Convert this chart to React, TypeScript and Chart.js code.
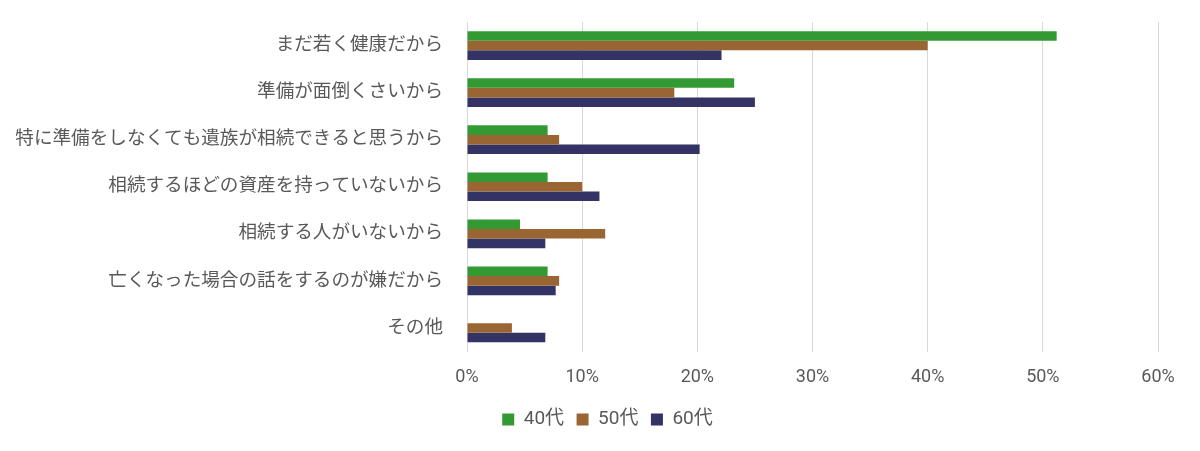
import React, { useEffect, useRef } from "react";
import { Chart, registerables } from "chart.js";

Chart.register(...registerables);

const categories = [
  "まだ若く健康だから",
  "準備が面倒くさいから",
  "特に準備をしなくても遺族が相続できると思うから",
  "相続するほどの資産を持っていないから",
  "相続する人がいないから",
  "亡くなった場合の話をするのが嫌だから",
  "その他",
];

const seriesNames = ["40代", "50代", "60代"];
const values40 = [51.2, 23.2, 7.0, 7.0, 4.6, 7.0, 0];
const values50 = [40.0, 18.0, 8.0, 10.0, 12.0, 8.0, 3.9];
const values60 = [22.1, 25.0, 20.2, 11.5, 6.8, 7.7, 6.8];
const colors = ["#339933", "#996633", "#333366"];

const xMax = 60;
const xStep = 10;

const legendShift = {
  id: "legendShift",
  afterLayout(chart: any) {
    const l = chart.legend;
    if (l) {
      l.left += 21;
      l.right += 21;
    }
  },
};

export default function App() {
  const ref = useRef<HTMLCanvasElement | null>(null);

  useEffect(() => {
    if (!ref.current) return;
    const font = 'Roboto, "Noto Sans CJK JP", sans-serif';
    const chart = new Chart(ref.current, {
      type: "bar",
      data: {
        labels: categories,
        datasets: [values40, values50, values60].map((d, i) => ({
          label: seriesNames[i],
          data: d,
          backgroundColor: colors[i],
          borderWidth: 0,
          categoryPercentage: 0.61,
          barPercentage: 1.0,
        })),
      },
      plugins: [legendShift],
      options: {
        indexAxis: "y",
        animation: false,
        responsive: false,
        maintainAspectRatio: false,
        layout: { padding: { top: 22, right: 42, bottom: 12, left: 15 } },
        plugins: {
          legend: {
            position: "bottom",
            labels: {
              boxWidth: 12,
              boxHeight: 12,
              padding: 12.5,
              color: "#595959",
              font: { family: font, size: 19 },
            },
          },
          tooltip: { enabled: false },
        },
        scales: {
          x: {
            min: 0,
            max: xMax,
            afterFit: (scale: any) => {
              scale.height = 46;
            },
            ticks: {
              stepSize: xStep,
              padding: 15,
              color: "#595959",
              font: { family: font, size: 18 },
              callback: (v: any) => v + "%",
            },
            grid: { color: "#d9d9d9", drawTicks: false, lineWidth: 1 },
            border: { display: false },
          },
          y: {
            afterFit: (scale: any) => {
              scale.width = 452;
              scale.paddingTop = 0;
              scale.paddingBottom = 0;
            },
            ticks: {
              padding: 24,
              color: "#595959",
              font: { family: font, size: 18.6 },
            },
            grid: { display: false, drawTicks: false },
            border: { display: false },
          },
        },
      },
    });
    return () => chart.destroy();
  }, []);

  return (
    <div style={{ position: "fixed", left: 0, top: 0, width: 1200, height: 451, background: "#fff" }}>
      <canvas ref={ref} width={1200} height={451} style={{ width: 1200, height: 451 }} />
    </div>
  );
}
